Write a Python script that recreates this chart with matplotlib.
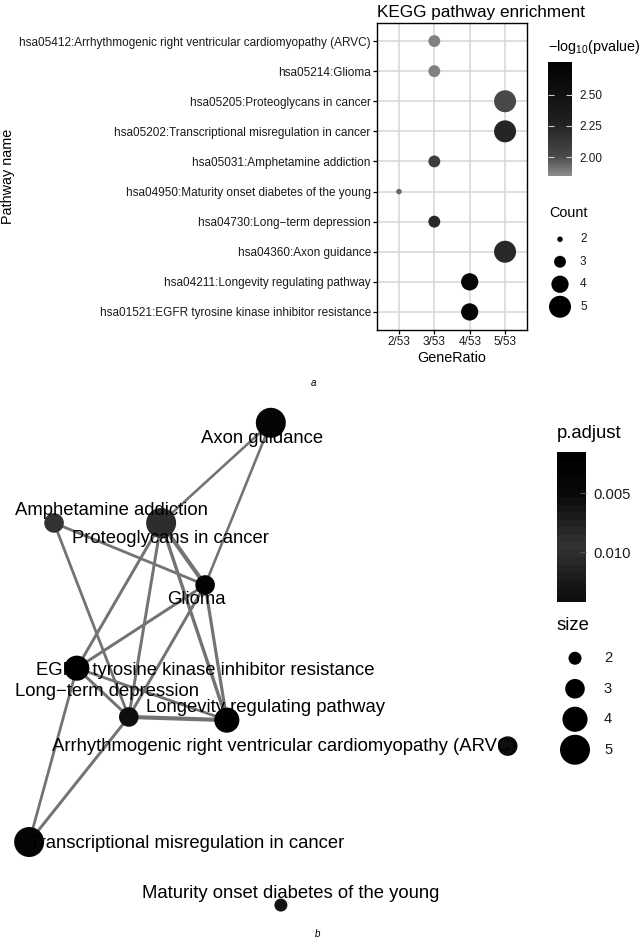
import numpy as np
import matplotlib
matplotlib.use('Agg')
import matplotlib.pyplot as plt
from matplotlib.colors import LinearSegmentedColormap

plt.rcParams['font.family'] = ['Liberation Sans', 'DejaVu Sans']
plt.rcParams['mathtext.fontset'] = 'custom'
plt.rcParams['mathtext.rm'] = 'Liberation Sans'
plt.rcParams['mathtext.it'] = 'Liberation Sans:italic'

# ---- data panel a: KEGG enrichment dot plot (top to bottom) ----
pathways = ['hsa05412:Arrhythmogenic right ventricular cardiomyopathy (ARVC)',
            'hsa05214:Glioma',
            'hsa05205:Proteoglycans in cancer',
            'hsa05202:Transcriptional misregulation in cancer',
            'hsa05031:Amphetamine addiction',
            'hsa04950:Maturity onset diabetes of the young',
            'hsa04730:Long\u2212term depression',
            'hsa04360:Axon guidance',
            'hsa04211:Longevity regulating pathway',
            'hsa01521:EGFR tyrosine kinase inhibitor resistance']
counts = np.array([3, 3, 5, 5, 3, 2, 3, 5, 4, 4])
n_genes = 53
neglogp = np.array([1.88, 1.88, 2.02, 2.24, 2.08, 1.94, 2.23, 2.22, 2.67, 2.70])
ratio_ticks = [2, 3, 4, 5]

# ---- data panel b: enrichment map ----
nodes = ['Axon guidance', 'Amphetamine addiction', 'Proteoglycans in cancer', 'Glioma',
         'EGFR tyrosine kinase inhibitor resistance', 'Long\u2212term depression',
         'Longevity regulating pathway',
         'Arrhythmogenic right ventricular cardiomyopathy (ARVC)',
         'Transcriptional misregulation in cancer', 'Maturity onset diabetes of the young']
node_size = np.array([5, 3, 5, 3, 4, 3, 4, 3, 5, 2])
node_padj = np.array([0.004, 0.0096, 0.0100, 0.003, 0.002, 0.0055, 0.002, 0.0138, 0.004, 0.006])
layout_x = np.array([0.511, 0.102, 0.304, 0.387, 0.145, 0.243, 0.428, 0.958, 0.055, 0.530])
layout_y = np.array([0.957, 0.768, 0.768, 0.651, 0.494, 0.402, 0.396, 0.347, 0.166, 0.047])
edges = [(0, 2, 0.2), (0, 3, 0.2), (1, 3, 0.25), (1, 5, 0.25), (2, 3, 0.6),
         (2, 4, 0.3), (2, 5, 0.3), (2, 6, 0.4), (3, 4, 0.3), (3, 5, 0.3),
         (3, 6, 0.35), (4, 5, 0.3), (4, 6, 0.25), (4, 8, 0.25), (5, 6, 0.6),
         (5, 8, 0.3)]
size_levels = [2, 3, 4, 5]

W, H = 644, 941
fig = plt.figure(figsize=(W/100, H/100), dpi=100)

def px_rect(l, t, r, b):
    return [l/W, 1-b/H, (r-l)/W, (b-t)/H]

def sq_rescale(v, lo, hi):
    # area-like scale as in ggplot scale_size
    s = np.sqrt(np.asarray(v, float))
    f = (s - np.sqrt(2)) / (np.sqrt(5) - np.sqrt(2))
    return lo + (hi - lo)*f

def s_from_px(d):
    return (np.asarray(d)*0.72)**2

txt = '#1a1a1a'

# ================= panel a =================
cmap_a = LinearSegmentedColormap.from_list('a', [(0, '#8e8e8e'), (0.17, '#4a4a4a'),
                                                 (0.45, '#222222'), (0.72, '#111111'),
                                                 (1, '#000000')])
ax = fig.add_axes(px_rect(377, 23, 527, 330))
ypos = np.arange(len(pathways))[::-1] + 1
sc = ax.scatter(counts/n_genes, ypos, s=s_from_px(sq_rescale(counts, 5.5, 22)),
                c=neglogp, cmap=cmap_a, vmin=1.85, vmax=2.76, edgecolors='none', zorder=3)
ax.set_xlim(1.38/n_genes, 5.62/n_genes)
ax.set_ylim(0.4, len(pathways)+0.6)
ax.set_xticks(np.array(ratio_ticks)/n_genes)
ax.set_xticklabels(['%d/%d' % (k, n_genes) for k in ratio_ticks])
ax.set_yticks(ypos)
ax.set_yticklabels(pathways)
ax.tick_params(labelsize=8.5, length=3, width=0.9, labelcolor=txt, pad=1.5)
ax.grid(color='#d6d6d6', lw=1.1)
ax.set_axisbelow(True)
for sp in ax.spines.values():
    sp.set_linewidth(1.0)
ax.set_xlabel('GeneRatio', fontsize=10.4, labelpad=2)
ax.set_ylabel('Pathway name', fontsize=10.4)
ax.yaxis.set_label_coords((15-377)/150, 0.5)
ax.set_title('KEGG pathway enrichment', fontsize=12.3, loc='left', pad=4)

cax = fig.add_axes(px_rect(548, 62, 572, 176))
cb = fig.colorbar(sc, cax=cax, ticks=[2.0, 2.25, 2.5], format='%.2f')
cb.outline.set_visible(False)
cax.tick_params(direction='in', color='#cccccc', length=4, width=0.8,
                left=True, right=True, labelsize=8.5, labelcolor=txt, pad=5)
fig.text(548/W, 1-47/H, r'$-\mathrm{log}_{10}$(pvalue)', fontsize=10.4, va='center')

fig.text(549/W, 1-213/H, 'Count', fontsize=10.4, va='center')
lax = fig.add_axes(px_rect(548, 228, 610, 318))
lax.axis('off')
lax.set_xlim(0, 1)
lax.set_ylim(len(size_levels)-0.5, -0.5)
lvl_y = np.arange(len(size_levels))
lax.scatter(np.full(len(size_levels), 12/62), lvl_y,
            s=s_from_px(sq_rescale(size_levels, 5.5, 22)), color='black', edgecolors='none')
for yy, lv in zip(lvl_y, size_levels):
    lax.text(32/62, yy, str(lv), fontsize=8.5, va='center', color=txt)

fig.text(313/W, 1-383/H, 'a', fontsize=7, style='italic', ha='center', va='center')

# ================= panel b =================
cmap_b = LinearSegmentedColormap.from_list('b', [(0, '#000000'), (0.27, '#080808'),
                                                 (0.62, '#333333'), (1, '#0e0e0e')], N=20)
axb = fig.add_axes(px_rect(0, 400, 530, 930))
axb.axis('off')
axb.set_xlim(0, 1)
axb.set_ylim(0, 1)
for i, j, w in edges:
    axb.plot([layout_x[i], layout_x[j]], [layout_y[i], layout_y[j]],
             color='#737373', lw=1.3 + 2.8*w, solid_capstyle='butt', zorder=1)
nb = axb.scatter(layout_x, layout_y, s=s_from_px(sq_rescale(node_size, 13, 30)),
                 c=node_padj, cmap=cmap_b, vmin=0.0015, vmax=0.0142,
                 edgecolors='none', zorder=2, clip_on=False)
# label offsets in pixels (dx right, dy down)
label_off = [(-9, 16), (57, -12), (9, 16), (-9, 15), (128, 2), (-22, -25),
             (39, -13), (-223, 0), (157, 1), (10, -12)]
for k, name in enumerate(nodes):
    dx, dy = label_off[k]
    axb.annotate(name, (layout_x[k], layout_y[k]), xytext=(dx*0.72, -dy*0.72),
                 textcoords='offset points', ha='center', va='center',
                 fontsize=13.3, color='black', zorder=3, annotation_clip=False)

cbx = fig.add_axes(px_rect(557, 452, 586, 602))
cb2 = fig.colorbar(nb, cax=cbx, ticks=[0.005, 0.010], format='%.3f')
cb2.outline.set_visible(False)
cbx.invert_yaxis()
cbx.tick_params(direction='in', color='#555555', length=4, width=0.8,
                left=False, right=True, labelsize=10.6, labelcolor=txt, pad=5)
fig.text(557/W, 1-433/H, 'p.adjust', fontsize=13.3, va='center')

fig.text(557/W, 1-625/H, 'size', fontsize=13.3, va='center')
lbx = fig.add_axes(px_rect(557, 643, 625, 765))
lbx.axis('off')
lbx.set_xlim(0, 1)
lbx.set_ylim(len(size_levels)-0.5, -0.5)
lbx.scatter(np.full(len(size_levels), 18/68), lvl_y,
            s=s_from_px(sq_rescale(size_levels, 13, 30)), color='black', edgecolors='none')
for yy, lv in zip(lvl_y, size_levels):
    lbx.text(47/68, yy, str(lv), fontsize=10.6, va='center', color=txt)

fig.text(318/W, 1-934/H, 'b', fontsize=7, style='italic', ha='center', va='center')

fig.savefig('out.png', dpi=100)
